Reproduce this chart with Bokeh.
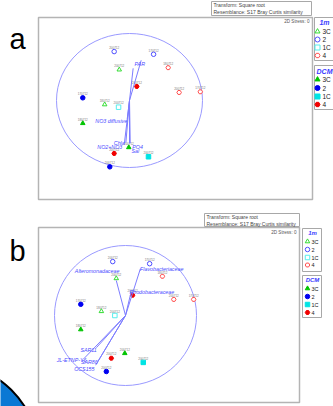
from bokeh.plotting import figure
from bokeh.models import Range1d, ColumnDataSource, GlobalInlineStyleSheet
from bokeh.core.properties import value
from bokeh.embed import file_html
from bokeh.resources import INLINE

W, H = 333, 406
FONT = value("Liberation Sans")

# ---------------- data ----------------
sample_labels = ["200712", "170712", "200712", "180712", "200712", "200712", "170712", "170712",
                 "180712", "200712", "180712", "200712", "200712", "200712", "200712"]
sample_depth = ["1m", "1m", "1m", "1m", "DCM", "1m", "1m", "DCM",
                "1m", "1m", "DCM", "DCM", "DCM", "DCM", "DCM"]
sample_station = ["2", "2", "3C", "4", "4", "4", "4", "2",
                  "3C", "1C", "3C", "3C", "4", "1C", "2"]

# panel a (environmental vectors) MDS coordinates
a_mds1 = [-0.21, 0.33, -0.14, 0.53, 0.10, 0.68, 0.97, -0.64, -0.34, -0.15, -0.64, -0.01, -0.21, 0.26, -0.27]
a_mds2 = [0.73, 0.69, 0.46, 0.49, 0.21, 0.12, 0.13, 0.04, -0.06, -0.10, -0.34, -0.70, -0.79, -0.84, -0.99]
# panel b (bacterial family vectors)
b_mds1 = [-0.18, 0.34, -0.13, 0.52, 0.10, 0.68, 0.96, -0.63, -0.34, -0.15, -0.63, -0.01, -0.20, 0.25, -0.27]
b_mds2 = [0.77, 0.74, 0.53, 0.56, 0.29, 0.23, 0.23, 0.16, 0.06, 0.00, -0.20, -0.54, -0.61, -0.67, -0.80]

a_vectors = ["PAR", "Temp", "NO3 diffusive", "NO2+NO3", "Chla", "PO4", "Sal"]
a_vec_x = [0.16, 0.05, -0.03, -0.07, -0.05, 0.01, 0.00]
a_vec_y = [0.60, 0.48, -0.27, -0.64, -0.63, -0.64, -0.64]
a_vec_labels = ["PAR", "NO3 diffusive", "NO2+NO3", "Chla", "PO4", "Sal"]
a_lab_x = [0.14, -0.25, -0.27, -0.14, 0.11, 0.08]
a_lab_y = [0.55, -0.31, -0.70, -0.64, -0.69, -0.76]

b_vectors = ["Alteromonadaceae", "Flavobacteriaceae", "Rhodobacteraceae", "SAR11", "JL-ETNP-Y6", "SAR86", "OCS155"]
b_vec_x = [-0.13, 0.21, 0.08, -0.41, -0.58, -0.39, -0.42]
b_vec_y = [0.50, 0.67, 0.34, -0.46, -0.61, -0.66, -0.71]
b_lab_x = [-0.40, 0.51, 0.37, -0.52, -0.76, -0.51, -0.58]
b_lab_y = [0.64, 0.67, 0.34, -0.49, -0.64, -0.67, -0.77]

legend_stations = ["3C", "2", "1C", "4"]
station_marker = {"3C": "triangle", "2": "circle", "1C": "square", "4": "hex"}
dcm_color = {"3C": "#00c400", "2": "#0000f0", "1C": "#00e4e4", "4": "#f00000"}
m1_color = {"3C": "#33dd33", "2": "#4d4dff", "1C": "#55eeee", "4": "#ff4d4d"}

# ---------------- layout (screen pixels) ----------------
panels = {
    "a": dict(cx=129, cy=100, rx=73, ry=67, box=(38, 312, 17, 199), tbox=(211, 311, 1, 15),
              stress=(309, 21), letter=(9, 38), leg_x=317, leg_tx=322, leg_c=324,
              box1=(314, 345, 17, 60), box2=(314, 345, 65, 109), t1=21.5, t2=71,
              ys1=[31, 39, 47, 55], ys2=[79, 87.5, 96, 104], lfs="6.5px", hfs="7px", ms=5),
    "b": dict(cx=125, cy=315, rx=71, ry=70, box=(38, 299, 227, 402), tbox=(204, 299, 213, 226),
              stress=(296, 232), letter=(9, 250), leg_x=307, leg_tx=311, leg_c=312,
              box1=(302, 321, 228, 271), box2=(302, 321, 275, 317), t1=232.5, t2=279.5,
              ys1=[241, 249, 257, 264.5], ys2=[288, 296, 304, 312], lfs="5.5px", hfs="6px", ms=4.5),
}

p = figure(width=W, height=H, x_range=Range1d(0, W), y_range=Range1d(H, 0),
           output_backend="svg", toolbar_location=None, min_border=0,
           x_axis_location=None, y_axis_location=None)
p.grid.visible = False
p.outline_line_color = None
p.background_fill_color = "white"
p.stylesheets = [GlobalInlineStyleSheet(css="html, body { margin: 0 !important; padding: 0; overflow: hidden; }")]

for key, cfg in panels.items():
    p.extra_x_ranges[key + "x"] = Range1d((0 - cfg["cx"]) / cfg["rx"], (W - cfg["cx"]) / cfg["rx"])
    p.extra_y_ranges[key + "y"] = Range1d((cfg["cy"] - H) / cfg["ry"], cfg["cy"] / cfg["ry"])

# decorative blue shape in lower-left corner
p.circle(x=[-60], y=[460], radius=100, fill_color="#0a78d4", line_color="black", line_width=2)

data = {"a": (a_mds1, a_mds2), "b": (b_mds1, b_mds2)}

for key, cfg in panels.items():
    l, r, t, b = cfg["box"]
    p.quad(left=[l], right=[r], top=[t], bottom=[b], fill_color="white", line_color="#b4b4b4", line_width=1.5)
    l, r, t, b = cfg["tbox"]
    p.quad(left=[l], right=[r], top=[t], bottom=[b], fill_color="white", line_color="#a8a8a8", line_width=1)
    p.text(x=[l + 2, l + 2], y=[t + 3.6, t + 10.2],
           text=["Transform: Square root", "Resemblance: S17 Bray Curtis similarity"],
           text_font=FONT, text_font_size=value("5px"), text_color="#444444", text_baseline="middle")
    p.text(x=[cfg["stress"][0]], y=[cfg["stress"][1]], text=["2D Stress: 0"], text_font=FONT,
           text_font_size=value("4.6px"), text_color="#555555", text_align="right", text_baseline="middle")
    p.text(x=[cfg["letter"][0]], y=[cfg["letter"][1]], text=[key], text_font=FONT,
           text_font_size=value("29px"), text_color="black", text_baseline="alphabetic")

    # legend boxes
    for bx in (cfg["box1"], cfg["box2"]):
        p.quad(left=[bx[0]], right=[bx[1]], top=[bx[2]], bottom=[bx[3]], fill_color="white",
               line_color="#a8a8a8", line_width=1)
    p.text(x=[cfg["leg_c"], cfg["leg_c"]], y=[cfg["t1"], cfg["t2"]], text=["1m", "DCM"], text_font=FONT,
           text_font_size=value(cfg["hfs"]), text_font_style="bold italic", text_color="#3a3aff",
           text_align="center", text_baseline="middle")
    for ys, colors, filled in ((cfg["ys1"], m1_color, False), (cfg["ys2"], dcm_color, True)):
        src = ColumnDataSource(dict(x=[cfg["leg_x"]] * 4, y=ys,
                                    m=[station_marker[s] for s in legend_stations],
                                    c=[colors[s] for s in legend_stations], t=legend_stations))
        p.scatter(x="x", y="y", marker="m", size=cfg["ms"], line_color="c",
                  fill_color="c" if filled else "white", line_width=1, source=src)
        p.text(x=[cfg["leg_tx"]] * 4, y=ys, text=legend_stations, text_font=FONT,
               text_font_size=value(cfg["lfs"]), text_color="#222222", text_baseline="middle")

    xr, yr = key + "x", key + "y"
    # correlation circle
    p.ellipse(x=[0], y=[0], width=2, height=2, fill_color=None, line_color="#9a9aff", line_width=1,
              x_range_name=xr, y_range_name=yr)

    # samples
    mx, my = data[key]
    for depth, colors, filled in (("1m", m1_color, False), ("DCM", dcm_color, True)):
        idx = [i for i, d in enumerate(sample_depth) if d == depth]
        src = ColumnDataSource(dict(x=[mx[i] for i in idx], y=[my[i] for i in idx],
                                    m=[station_marker[sample_station[i]] for i in idx],
                                    c=[colors[sample_station[i]] for i in idx],
                                    t=[sample_labels[i] for i in idx]))
        p.scatter(x="x", y="y", marker="m", size=4.5, line_color="c",
                  fill_color="c" if filled else "white", line_width=1, source=src,
                  x_range_name=xr, y_range_name=yr)
        p.text(x="x", y="y", text="t", y_offset=-4.5, text_font=FONT, text_font_size=value("3px"),
               text_color="#777777", text_align="center", text_baseline="middle", source=src,
               x_range_name=xr, y_range_name=yr)

# vectors
p.segment(x0=[0] * len(a_vectors), y0=[0] * len(a_vectors), x1=a_vec_x, y1=a_vec_y,
          line_color="#7c7cff", line_width=1, x_range_name="ax", y_range_name="ay")
p.text(x=a_lab_x, y=a_lab_y, text=a_vec_labels, text_font=FONT, text_font_size=value("5.3px"),
       text_font_style="italic", text_color="#4a4aff", text_align="center", text_baseline="middle",
       x_range_name="ax", y_range_name="ay")
p.segment(x0=[0] * len(b_vectors), y0=[0] * len(b_vectors), x1=b_vec_x, y1=b_vec_y,
          line_color="#7c7cff", line_width=1, x_range_name="bx", y_range_name="by")
p.text(x=b_lab_x, y=b_lab_y, text=b_vectors, text_font=FONT, text_font_size=value("5.3px"),
       text_font_style="italic", text_color="#4a4aff", text_align="center", text_baseline="middle",
       x_range_name="bx", y_range_name="by")

open("out.html", "w").write(file_html(p, INLINE))
